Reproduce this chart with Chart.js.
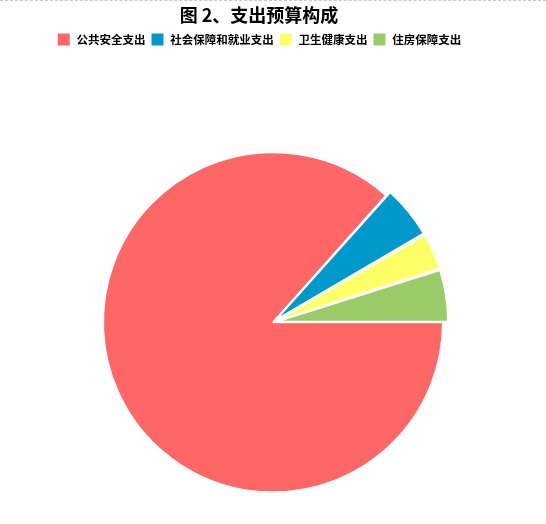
<!DOCTYPE html>
<html>
<head>
<meta charset="utf-8">
<script src="https://cdn.jsdelivr.net/npm/chart.js@4"></script>
<style>
  html, body { margin: 0; padding: 0; background: #fff; }
  #wrap { position: relative; width: 546px; height: 524px; }
  #topline { position: absolute; left: 0; top: 0; width: 546px; border-top: 1px dashed #c8c8c8; }
</style>
</head>
<body>
<div id="wrap">
  <div id="topline"></div>
  <canvas id="budgetChart" width="546" height="524"></canvas>
</div>
<script>
// 支出预算构成 (百分比, 从图上估算)
const categories = ['公共安全支出', '社会保障和就业支出', '卫生健康支出', '住房保障支出'];
const shares = [86.6, 5.0, 3.5, 4.9];
const sliceColors = ['#FF6666', '#0099CC', '#FFFF66', '#99CC66'];
const sliceOffsets = [0, 12, 12, 12];

const fontFamily = '"Noto Sans CJK SC", "Noto Sans", sans-serif';

// Extra ruimte onder de legenda en titel/legenda iets naar links
const headerTweak = {
    id: 'headerTweak',
    beforeInit(chart) {
        const fit = chart.legend.fit;
        chart.legend.fit = function () {
            fit.call(this);
            this.height += 64;
        };
    },
    afterLayout(chart) {
        [chart.titleBlock, chart.legend].forEach(box => {
            if (box) {
                box.left -= 14;
                box.right -= 14;
            }
        });
    }
};

const ctx = document.getElementById('budgetChart').getContext('2d');
window.budgetChart = new Chart(ctx, {
    type: 'pie',
    data: {
        labels: categories,
        datasets: [{
            data: shares,
            backgroundColor: sliceColors,
            borderColor: '#ffffff',
            borderWidth: 2,
            offset: sliceOffsets
        }]
    },
    options: {
        responsive: false,
        animation: false,
        rotation: 90,
        radius: 170,
        layout: { padding: { top: 4, bottom: 0 } },
        plugins: {
            title: {
                display: true,
                text: '图 2、支出预算构成',
                color: '#000',
                font: { family: fontFamily, size: 18, weight: 'bold' },
                padding: { top: 0, bottom: 2 }
            },
            legend: {
                position: 'top',
                labels: {
                    color: '#000',
                    boxWidth: 14,
                    boxHeight: 14,
                    padding: 5,
                    font: { family: fontFamily, size: 11.5, weight: 'bold' }
                }
            },
            tooltip: { enabled: false }
        }
    },
    plugins: [headerTweak]
});
</script>
</body>
</html>
